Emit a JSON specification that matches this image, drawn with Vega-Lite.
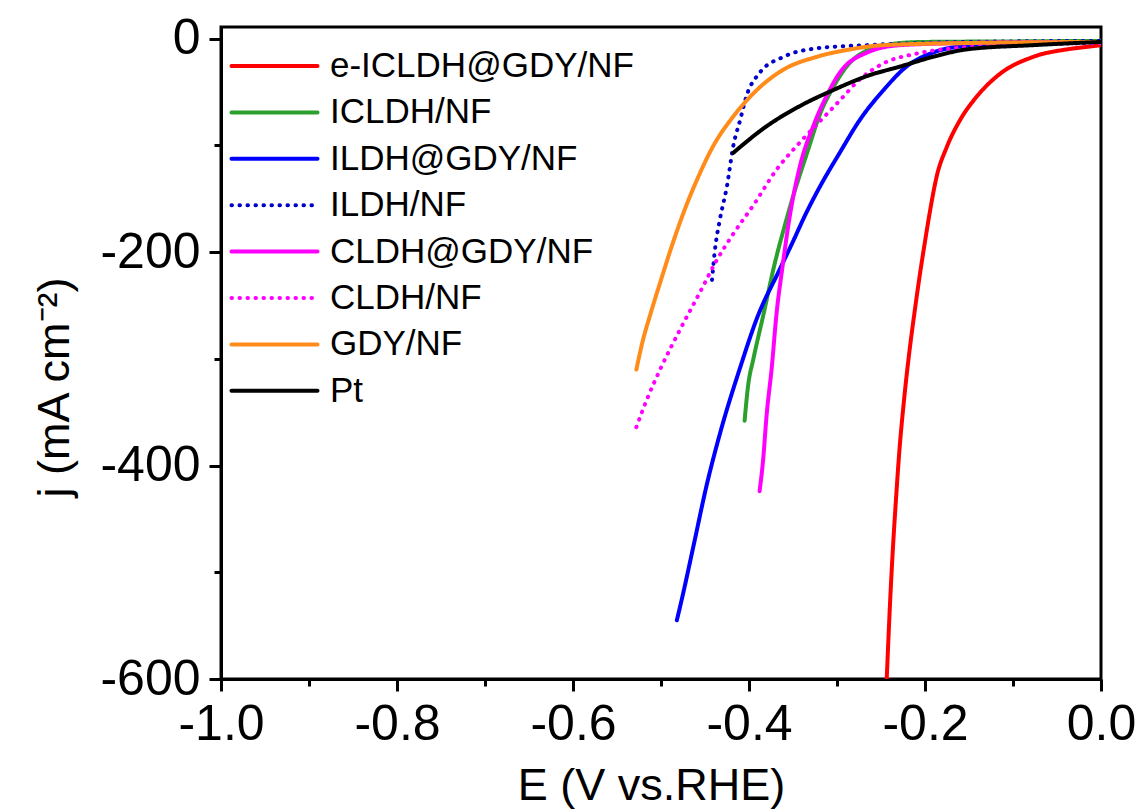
{
  "$schema": "https://vega.github.io/schema/vega-lite/v6.json",
  "width": 880,
  "height": 652,
  "autosize": "none",
  "padding": {"left": 221, "top": 27, "right": 41, "bottom": 133},
  "background": "white",
  "config": {
    "font": "Liberation Sans",
    "view": {"stroke": "black", "strokeWidth": 3},
    "axis": {"grid": false, "domainColor": "black", "domainWidth": 3, "tickColor": "black", "tickWidth": 3, "labelColor": "black", "titleColor": "black", "labelFont": "Liberation Sans", "titleFont": "Liberation Sans", "titleFontWeight": "normal"},
    "legend": {
      "orient": "none", "legendX": 8, "legendY": 19, "padding": 0,
      "labelFontSize": 35, "labelFont": "Liberation Sans", "labelColor": "black", "labelOffset": 10, "labelLimit": 0,
      "symbolType": "stroke", "symbolSize": 7400, "symbolStrokeWidth": 4, "clipHeight": 40, "rowPadding": 6.4
    }
  },
  "data": {"values": [
    {"s": "e-ICLDH@GDY/NF", "x": 0, "y": -6},
    {"s": "e-ICLDH@GDY/NF", "x": -0.02, "y": -8},
    {"s": "e-ICLDH@GDY/NF", "x": -0.039, "y": -10},
    {"s": "e-ICLDH@GDY/NF", "x": -0.077, "y": -17},
    {"s": "e-ICLDH@GDY/NF", "x": -0.115, "y": -33},
    {"s": "e-ICLDH@GDY/NF", "x": -0.141, "y": -54},
    {"s": "e-ICLDH@GDY/NF", "x": -0.160, "y": -76},
    {"s": "e-ICLDH@GDY/NF", "x": -0.175, "y": -101},
    {"s": "e-ICLDH@GDY/NF", "x": -0.187, "y": -130},
    {"s": "e-ICLDH@GDY/NF", "x": -0.194, "y": -160},
    {"s": "e-ICLDH@GDY/NF", "x": -0.200, "y": -190},
    {"s": "e-ICLDH@GDY/NF", "x": -0.206, "y": -222},
    {"s": "e-ICLDH@GDY/NF", "x": -0.212, "y": -257},
    {"s": "e-ICLDH@GDY/NF", "x": -0.218, "y": -295},
    {"s": "e-ICLDH@GDY/NF", "x": -0.224, "y": -340},
    {"s": "e-ICLDH@GDY/NF", "x": -0.229, "y": -385},
    {"s": "e-ICLDH@GDY/NF", "x": -0.233, "y": -432},
    {"s": "e-ICLDH@GDY/NF", "x": -0.2365, "y": -478},
    {"s": "e-ICLDH@GDY/NF", "x": -0.2395, "y": -525},
    {"s": "e-ICLDH@GDY/NF", "x": -0.2435, "y": -600},

    {"s": "ICLDH/NF", "x": 0, "y": -2},
    {"s": "ICLDH/NF", "x": -0.1, "y": -2.5},
    {"s": "ICLDH/NF", "x": -0.2, "y": -3},
    {"s": "ICLDH/NF", "x": -0.228, "y": -4},
    {"s": "ICLDH/NF", "x": -0.25, "y": -7},
    {"s": "ICLDH/NF", "x": -0.266, "y": -11},
    {"s": "ICLDH/NF", "x": -0.289, "y": -26},
    {"s": "ICLDH/NF", "x": -0.304, "y": -45},
    {"s": "ICLDH/NF", "x": -0.319, "y": -70},
    {"s": "ICLDH/NF", "x": -0.334, "y": -107},
    {"s": "ICLDH/NF", "x": -0.350, "y": -148},
    {"s": "ICLDH/NF", "x": -0.360, "y": -177},
    {"s": "ICLDH/NF", "x": -0.370, "y": -208},
    {"s": "ICLDH/NF", "x": -0.384, "y": -260},
    {"s": "ICLDH/NF", "x": -0.395, "y": -300},
    {"s": "ICLDH/NF", "x": -0.401, "y": -325},
    {"s": "ICLDH/NF", "x": -0.405, "y": -358},

    {"s": "ILDH@GDY/NF", "x": 0, "y": -3},
    {"s": "ILDH@GDY/NF", "x": -0.1, "y": -4},
    {"s": "ILDH@GDY/NF", "x": -0.153, "y": -6.5},
    {"s": "ILDH@GDY/NF", "x": -0.191, "y": -13},
    {"s": "ILDH@GDY/NF", "x": -0.221, "y": -26},
    {"s": "ILDH@GDY/NF", "x": -0.247, "y": -48},
    {"s": "ILDH@GDY/NF", "x": -0.274, "y": -76},
    {"s": "ILDH@GDY/NF", "x": -0.297, "y": -107},
    {"s": "ILDH@GDY/NF", "x": -0.319, "y": -138},
    {"s": "ILDH@GDY/NF", "x": -0.336, "y": -165},
    {"s": "ILDH@GDY/NF", "x": -0.350, "y": -190},
    {"s": "ILDH@GDY/NF", "x": -0.365, "y": -216},
    {"s": "ILDH@GDY/NF", "x": -0.391, "y": -262},
    {"s": "ILDH@GDY/NF", "x": -0.410, "y": -308},
    {"s": "ILDH@GDY/NF", "x": -0.433, "y": -370},
    {"s": "ILDH@GDY/NF", "x": -0.448, "y": -418},
    {"s": "ILDH@GDY/NF", "x": -0.463, "y": -475},
    {"s": "ILDH@GDY/NF", "x": -0.476, "y": -524},
    {"s": "ILDH@GDY/NF", "x": -0.482, "y": -545},

    {"s": "ILDH/NF", "x": 0, "y": -2},
    {"s": "ILDH/NF", "x": -0.15, "y": -3},
    {"s": "ILDH/NF", "x": -0.266, "y": -6},
    {"s": "ILDH/NF", "x": -0.323, "y": -9},
    {"s": "ILDH/NF", "x": -0.361, "y": -17},
    {"s": "ILDH/NF", "x": -0.388, "y": -32},
    {"s": "ILDH/NF", "x": -0.403, "y": -54},
    {"s": "ILDH/NF", "x": -0.410, "y": -76},
    {"s": "ILDH/NF", "x": -0.418, "y": -101},
    {"s": "ILDH/NF", "x": -0.425, "y": -138},
    {"s": "ILDH/NF", "x": -0.433, "y": -169},
    {"s": "ILDH/NF", "x": -0.439, "y": -200},
    {"s": "ILDH/NF", "x": -0.442, "y": -226},

    {"s": "CLDH@GDY/NF", "x": 0, "y": -3},
    {"s": "CLDH@GDY/NF", "x": -0.15, "y": -4},
    {"s": "CLDH@GDY/NF", "x": -0.228, "y": -6},
    {"s": "CLDH@GDY/NF", "x": -0.266, "y": -13},
    {"s": "CLDH@GDY/NF", "x": -0.297, "y": -32},
    {"s": "CLDH@GDY/NF", "x": -0.312, "y": -54},
    {"s": "CLDH@GDY/NF", "x": -0.327, "y": -82},
    {"s": "CLDH@GDY/NF", "x": -0.342, "y": -119},
    {"s": "CLDH@GDY/NF", "x": -0.353, "y": -163},
    {"s": "CLDH@GDY/NF", "x": -0.362, "y": -214},
    {"s": "CLDH@GDY/NF", "x": -0.369, "y": -260},
    {"s": "CLDH@GDY/NF", "x": -0.374, "y": -307},
    {"s": "CLDH@GDY/NF", "x": -0.380, "y": -353},
    {"s": "CLDH@GDY/NF", "x": -0.384, "y": -395},
    {"s": "CLDH@GDY/NF", "x": -0.388, "y": -424},

    {"s": "CLDH/NF", "x": 0, "y": -4},
    {"s": "CLDH/NF", "x": -0.1, "y": -6},
    {"s": "CLDH/NF", "x": -0.17, "y": -9},
    {"s": "CLDH/NF", "x": -0.210, "y": -14},
    {"s": "CLDH/NF", "x": -0.247, "y": -23},
    {"s": "CLDH/NF", "x": -0.274, "y": -38},
    {"s": "CLDH/NF", "x": -0.297, "y": -58},
    {"s": "CLDH/NF", "x": -0.319, "y": -77},
    {"s": "CLDH/NF", "x": -0.342, "y": -97},
    {"s": "CLDH/NF", "x": -0.369, "y": -123},
    {"s": "CLDH/NF", "x": -0.395, "y": -156},
    {"s": "CLDH/NF", "x": -0.418, "y": -183},
    {"s": "CLDH/NF", "x": -0.437, "y": -208},
    {"s": "CLDH/NF", "x": -0.456, "y": -238},
    {"s": "CLDH/NF", "x": -0.478, "y": -272},
    {"s": "CLDH/NF", "x": -0.501, "y": -310},
    {"s": "CLDH/NF", "x": -0.516, "y": -338},
    {"s": "CLDH/NF", "x": -0.528, "y": -364},

    {"s": "GDY/NF", "x": 0, "y": -3},
    {"s": "GDY/NF", "x": -0.15, "y": -4},
    {"s": "GDY/NF", "x": -0.247, "y": -6},
    {"s": "GDY/NF", "x": -0.285, "y": -10},
    {"s": "GDY/NF", "x": -0.323, "y": -17},
    {"s": "GDY/NF", "x": -0.361, "y": -29},
    {"s": "GDY/NF", "x": -0.391, "y": -48},
    {"s": "GDY/NF", "x": -0.418, "y": -73},
    {"s": "GDY/NF", "x": -0.441, "y": -101},
    {"s": "GDY/NF", "x": -0.459, "y": -132},
    {"s": "GDY/NF", "x": -0.473, "y": -160},
    {"s": "GDY/NF", "x": -0.486, "y": -190},
    {"s": "GDY/NF", "x": -0.500, "y": -226},
    {"s": "GDY/NF", "x": -0.512, "y": -258},
    {"s": "GDY/NF", "x": -0.521, "y": -284},
    {"s": "GDY/NF", "x": -0.528, "y": -310},

    {"s": "Pt", "x": 0, "y": -3},
    {"s": "Pt", "x": -0.077, "y": -6},
    {"s": "Pt", "x": -0.153, "y": -10},
    {"s": "Pt", "x": -0.191, "y": -17},
    {"s": "Pt", "x": -0.228, "y": -26},
    {"s": "Pt", "x": -0.266, "y": -35},
    {"s": "Pt", "x": -0.304, "y": -48},
    {"s": "Pt", "x": -0.342, "y": -63},
    {"s": "Pt", "x": -0.380, "y": -82},
    {"s": "Pt", "x": -0.418, "y": -107}
  ]},
  "mark": {"type": "line", "strokeWidth": 4, "strokeCap": "round", "strokeJoin": "round", "interpolate": "monotone", "clip": true},
  "encoding": {
    "x": {
      "field": "x", "type": "quantitative",
      "scale": {"domain": [-1, 0], "nice": false, "zero": false},
      "axis": {
        "values": [-1, -0.9, -0.8, -0.7, -0.6, -0.5, -0.4, -0.3, -0.2, -0.1, 0],
        "labelExpr": "round(datum.value*10) % 2 == 0 ? (datum.value < 0 ? '-' + format(-datum.value, '.1f') : '0.0') : ''",
        "tickSize": {"condition": {"test": "round(datum.value*10) % 2 != 0", "value": 7}, "value": 12},
        "labelFontSize": 50, "labelPadding": 8, "labelFlush": false,
        "title": "E (V vs.RHE)", "titleFontSize": 45, "titlePadding": 14, "titleX": 430
      }
    },
    "y": {
      "field": "y", "type": "quantitative",
      "scale": {"domain": [-600, 11], "nice": false, "zero": false},
      "axis": {
        "values": [-600, -500, -400, -300, -200, -100, 0],
        "labelExpr": "datum.value % 200 == 0 ? (datum.value < 0 ? '-' + (-datum.value) : '0') : ''",
        "tickSize": {"condition": {"test": "datum.value % 200 != 0", "value": 7}, "value": 12},
        "labelFontSize": 50, "labelPadding": 9, "labelFlush": false,
        "title": "j (mA cm⁻²)", "titleFontSize": 45, "titlePadding": 22, "titleY": 360
      }
    },
    "color": {
      "field": "s", "type": "nominal",
      "scale": {
        "domain": ["e-ICLDH@GDY/NF", "ICLDH/NF", "ILDH@GDY/NF", "ILDH/NF", "CLDH@GDY/NF", "CLDH/NF", "GDY/NF", "Pt"],
        "range": ["#ff0000", "#2ca02c", "#0000ff", "#0000cc", "#ff00ff", "#ff00ff", "#ff8c1a", "#000000"]
      },
      "legend": {
        "title": null,
        "encode": {"symbols": {"update": {"strokeCap": {"value": "round"}}}}
      }
    },
    "strokeDash": {
      "field": "s", "type": "nominal",
      "scale": {
        "domain": ["e-ICLDH@GDY/NF", "ICLDH/NF", "ILDH@GDY/NF", "ILDH/NF", "CLDH@GDY/NF", "CLDH/NF", "GDY/NF", "Pt"],
        "range": [[1, 0], [1, 0], [1, 0], [0.5, 7.5], [1, 0], [0.5, 7.5], [1, 0], [1, 0]]
      },
      "legend": {
        "title": null,
        "encode": {"symbols": {"update": {"strokeCap": {"value": "round"}}}}
      }
    }
  }
}
